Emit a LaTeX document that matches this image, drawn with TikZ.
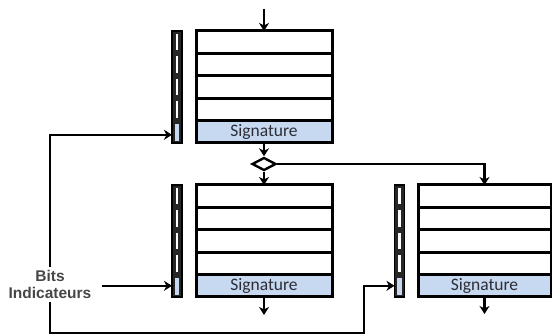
\documentclass[tikz,border=0pt]{standalone}
\usepackage{fontspec}
\setmainfont{Carlito}
\newfontfamily\bitsfont{Liberation Sans}
\usetikzlibrary{shapes.geometric,arrows.meta}
\definecolor{sigblue}{RGB}{198,217,240}
\definecolor{txt}{RGB}{45,45,55}
\definecolor{bittxt}{RGB}{70,70,70}
\tikzset{
  rowbox/.style={draw=black, line width=3pt, minimum height=22.4pt, inner sep=0pt, outer sep=0pt, fill=white},
  sigbox/.style={rowbox, fill=sigblue, font=\fontsize{17.5}{19}\selectfont, text=txt},
  bitcolumn/.style={draw=black, fill=black!85, line width=1.5pt, minimum width=10pt, minimum height=112pt, inner sep=0pt, outer sep=0pt},
  bitseg/.style={minimum width=10pt, minimum height=22.4pt, inner sep=0pt, outer sep=0pt},
  conn/.style={line width=2.4pt, -{Stealth[length=8pt,width=10pt,inset=2.5pt]}},
  junction/.style={diamond, draw=black, line width=2.4pt, fill=white, minimum width=24pt, minimum height=13pt, inner sep=0pt, aspect=2},
  bitslabel/.style={font=\bitsfont\bfseries\fontsize{15.5}{17}\selectfont, text=bittxt, align=center, inner sep=3pt}
}
\newcommand\memblock[4]{% name, left x, top y, width
  \foreach \i in {0,...,3} {
    \node[rowbox, minimum width=#4pt] (#1-\i) at (#2+#4/2, #3+11.2+\i*22.4) {};
  }
  \node[sigbox, minimum width=#4pt] (#1-4) at (#2+#4/2, #3+11.2+4*22.4) {Signature};
}
\newcommand\bitcol[3]{% name, left x, top y
  \node[bitcolumn] (#1) at (#2+5, #3+56) {};
  \foreach \i in {0,...,3} {
    \fill[white] (#2+3.8, #3+\i*22.4+3) rectangle (#2+6.4, #3+\i*22.4+19.4);
  }
  \fill[sigblue] (#2+2.6, #3+4*22.4+3) rectangle (#2+7.4, #3+112-2);
  \node[bitseg] (#1-s) at (#2+5, #3+100.8) {};
}
\begin{document}
\begin{tikzpicture}[x=1pt, y=-1pt]
  \useasboundingbox (0,0) rectangle (552,336);
  % blocks
  \memblock{A}{196}{31}{136}
  \memblock{B}{196}{185}{136}
  \memblock{C}{418}{185}{133}
  \bitcol{Ab}{172}{31}
  \bitcol{Bb}{172}{185}
  \bitcol{Cb}{394.5}{185}
  % junction
  \node[junction] (d) at (264,164) {};
  \coordinate (topin) at (264,9);
  \coordinate (Bout) at (264,315);
  \coordinate (Cout) at (484.5,314);
  \coordinate (k1) at (364,333);
  % label
  \node[bitslabel] (bits) at (50,284.5) {Bits\\Indicateurs};
  % connectors
  \draw[conn] (topin) -- (A-0.north);
  \draw[conn] (A-4.south) -- (d.north);
  \draw[conn] (d.south) -- (B-0.north);
  \draw[conn] (d.east) -| (C-0.north);
  \draw[conn] (B-4.south) -- (Bout);
  \draw[conn] (C-4.south) -- (Cout);
  \draw[conn] (bits.north) |- ([yshift=-3pt]Ab-s.west);
  \draw[conn] (Bb-s.west -| bits.east) ++(7,0) -- (Bb-s.west);
  \draw[conn] (bits.south) |- (k1) |- (Cb-s.west);
\end{tikzpicture}
\end{document}
